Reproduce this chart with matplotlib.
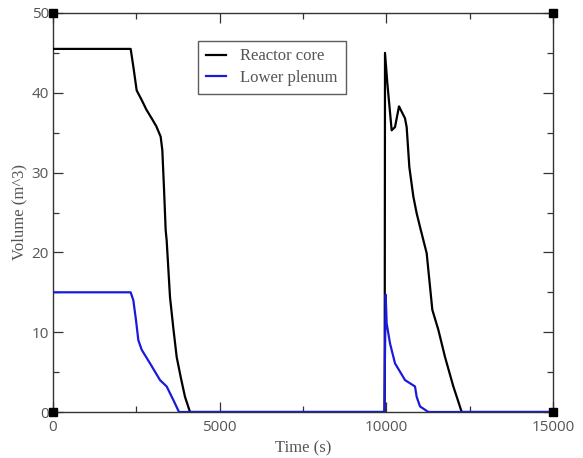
import matplotlib
matplotlib.use("Agg")
import matplotlib.pyplot as plt
from matplotlib.ticker import MultipleLocator

# Reactor core water volume (m^3) vs time (s)
core_time = [0, 2330, 2420, 2510, 2660, 2800, 2960, 3100, 3230, 3280, 3330, 3380,
             3410, 3510, 3610, 3710, 3840, 3960, 4110,
             9950, 9960, 10030, 10160, 10260, 10380, 10560, 10610, 10690, 10810,
             10910, 11010, 11210, 11380, 11560, 11760, 12010, 12160, 12260, 15000]
core_volume = [45.5, 45.5, 43.0, 40.3, 39.1, 37.9, 36.8, 35.8, 34.5, 32.8, 28.0, 22.8,
               21.5, 14.4, 10.5, 6.9, 4.2, 1.9, 0.0,
               0.0, 45.0, 41.2, 35.3, 35.7, 38.3, 36.8, 35.7, 30.7, 27.0,
               24.9, 23.2, 19.9, 12.8, 10.3, 6.9, 3.2, 1.3, 0.0, 0.0]

# Lower plenum water volume (m^3) vs time (s)
plenum_time = [0, 2330, 2410, 2490, 2560, 2660, 2910, 3210, 3410, 3610, 3780,
               9940, 9980, 10010, 10110, 10260, 10560, 10860, 10910, 11010, 11260, 15000]
plenum_volume = [15.0, 15.0, 14.0, 11.5, 9.0, 7.8, 6.1, 4.0, 3.2, 1.5, 0.0,
                 0.0, 14.7, 11.1, 8.6, 6.1, 4.0, 3.2, 1.9, 0.7, 0.0, 0.0]

# Corner markers of the plotting frame
corner_x = [0, 0, 15000, 15000]
corner_y = [0, 50, 50, 0]

x_ticks = [0, 5000, 10000, 15000]
y_ticks = [0, 10, 20, 30, 40, 50]

label_font = "Liberation Serif"
tick_font = "Open Sans"
text_color = "#555555"

fig = plt.figure(figsize=(5.83, 4.58), dpi=100)
ax = fig.add_axes([53 / 583, 1 - 412 / 458, 500 / 583, 399 / 458])

ax.plot(core_time, core_volume, color="black", lw=1.6, label="Reactor core", zorder=3)
ax.plot(plenum_time, plenum_volume, color="#1a1adb", lw=1.6, label="Lower plenum", zorder=4)
ax.plot(corner_x, corner_y, linestyle="none", marker="s", markersize=6,
        color="black", clip_on=False, zorder=5)

ax.set_xlim(0, 15000)
ax.set_ylim(0, 50)
ax.set_xticks(x_ticks)
ax.set_yticks(y_ticks)
ax.xaxis.set_minor_locator(MultipleLocator(2500))
ax.yaxis.set_minor_locator(MultipleLocator(5))

ax.tick_params(which="both", direction="in", top=True, right=True,
               color="#333333", width=0.9, labelcolor=text_color, labelsize=11)
ax.tick_params(which="major", length=7)
ax.tick_params(which="minor", length=4)
ax.tick_params(axis="x", which="major", pad=6)
ax.tick_params(axis="y", which="major", pad=3)
for lbl in ax.get_xticklabels() + ax.get_yticklabels():
    lbl.set_fontfamily(tick_font)

for sp in ax.spines.values():
    sp.set_color("#333333")
    sp.set_linewidth(1.0)

ax.set_xlabel("Time (s)", family=label_font, fontsize=12, color=text_color, labelpad=4)
ax.set_ylabel("Volume (m^3)", family=label_font, fontsize=12, color=text_color, labelpad=3)

leg = ax.legend(loc="upper left", bbox_to_anchor=(145 / 500, 1 - 28 / 399),
                frameon=True, fancybox=False, edgecolor="#333333",
                prop={"family": label_font, "size": 12}, handlelength=1.2,
                handletextpad=0.9, borderpad=0.45, labelspacing=0.35, borderaxespad=0)
leg.get_frame().set_linewidth(1.0)
for t in leg.get_texts():
    t.set_color(text_color)

fig.savefig("out.png", dpi=100)
